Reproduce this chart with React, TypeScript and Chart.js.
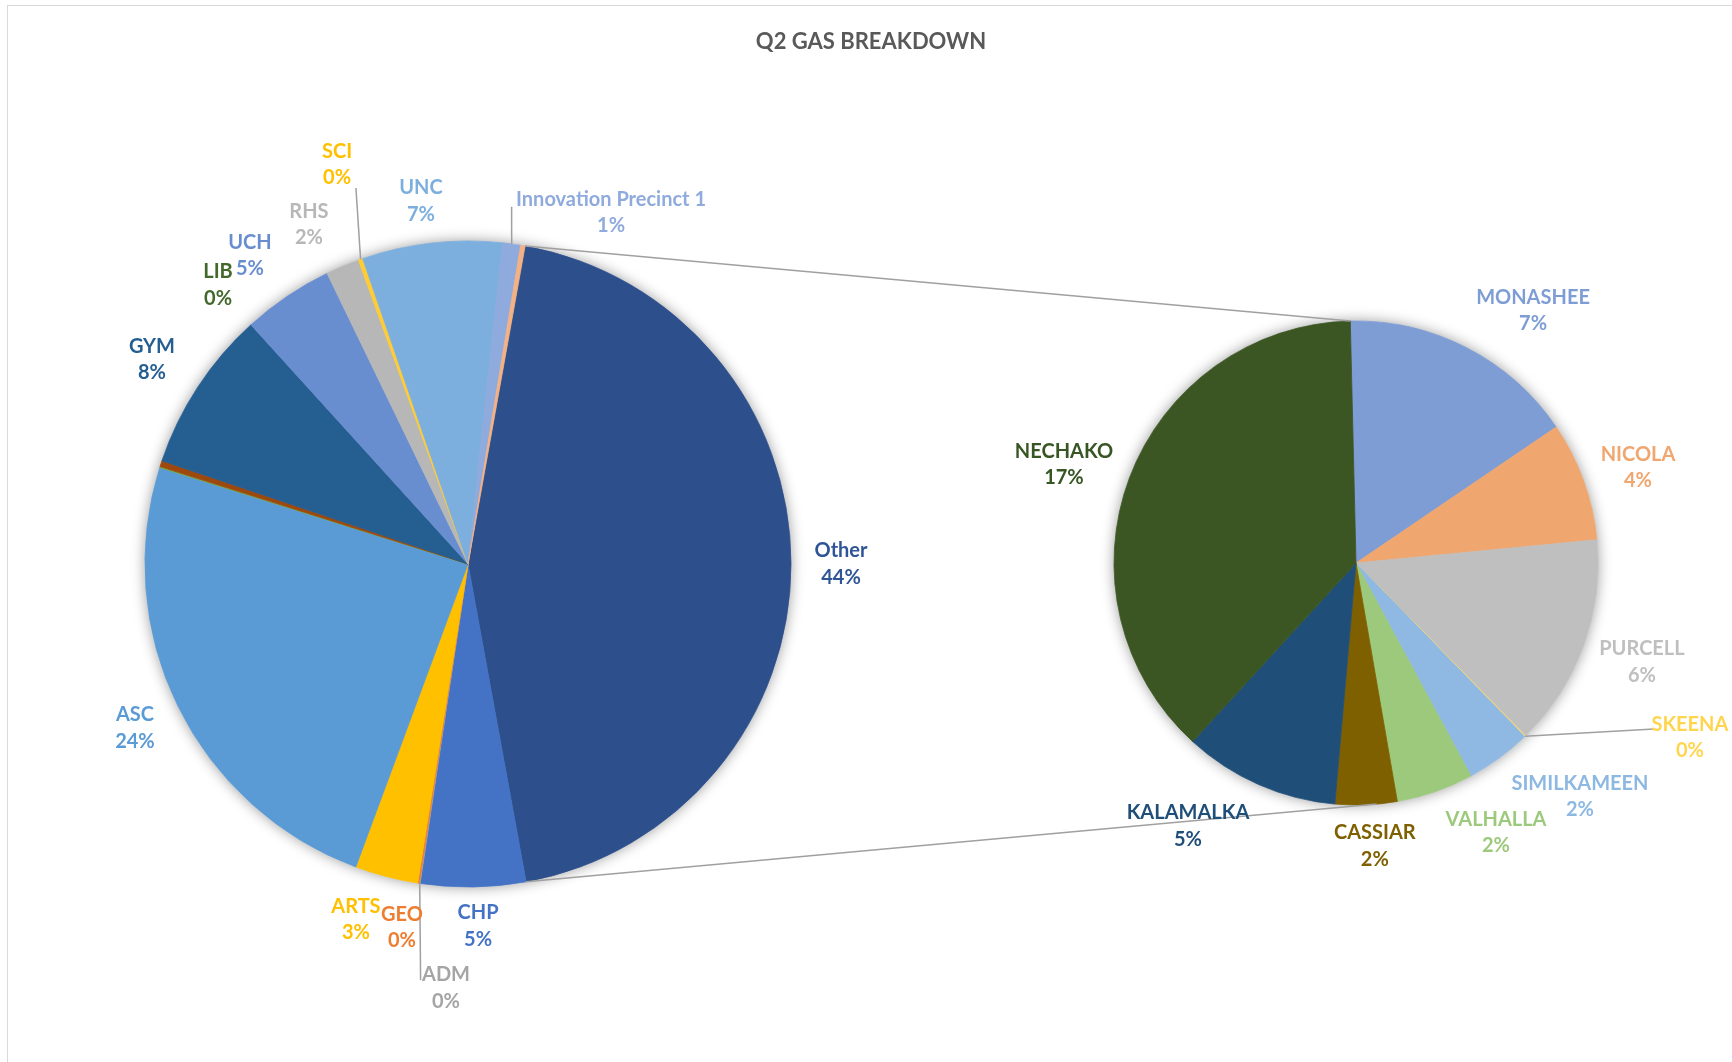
import React, { useEffect, useRef } from 'react';
import { Chart, registerables } from 'chart.js';

Chart.register(...registerables);

// ---------------- DATA ----------------
const TITLE = 'Q2 GAS BREAKDOWN';

// Main pie slices (clockwise after the "Other" slice); "" = slice without a label
const mainCategories = ['CHP', 'ADM', 'GEO', 'ARTS', 'ASC', 'LIB', '', 'GYM', 'UCH', 'RHS', 'SCI', 'UNC', 'Innovation Precinct 1', ''];
const mainValues = [5.25, 0.04, 0.08, 3.16, 24.2, 0.05, 0.3, 8.1, 4.55, 1.68, 0.22, 7.0, 0.9, 0.22];
const otherCategory = 'Other';

// Secondary pie (breakdown of "Other"), clockwise from top
const secondCategories = ['MONASHEE', 'NICOLA', 'PURCELL', 'SKEENA', 'SIMILKAMEEN', 'VALHALLA', 'CASSIAR', 'KALAMALKA', 'NECHAKO'];
const secondValues = [7.04, 3.53, 6.29, 0.03, 1.95, 2.28, 1.83, 4.61, 16.77];

// ---------------- STYLE / LAYOUT ----------------
const W = 1732;
const H = 1062;
const FONT = 'Lato, "Open Sans", sans-serif';
const LABEL_SIZE = 20;
const TITLE_SIZE = 22;
const LINE_GAP = 26.5;

const otherColor = '#2D4F8C';
const otherLabelColor = '#2F5597';
const mainColors = ['#4472C4', '#A5A5A5', '#ED7D31', '#FFC000', '#5B9BD5', '#70AD47', '#9E480E', '#255E91', '#698ED0', '#B7B7B7', '#FFCD33', '#7CAFDD', '#8FAADC', '#F4B183'];
const mainLabelColors = ['#4472C4', '#A5A5A5', '#ED7D31', '#FFC000', '#5B9BD5', '#43682B', '#9E480E', '#255E91', '#698ED0', '#B7B7B7', '#FFC000', '#7CAFDD', '#8FAADC', '#F4B183'];
const secondColors = ['#7E9DD5', '#F0A66F', '#BFBFBF', '#FFD966', '#8FB9E3', '#9CC97B', '#7F6000', '#1F4E79', '#3B5623'];
const secondLabelColors = ['#7E9DD5', '#F0A66F', '#BFBFBF', '#FFD54F', '#8DB8E2', '#9CC97B', '#7F6000', '#1F4E79', '#375623'];

const MAIN_CENTER = [468, 564];
const MAIN_RADIUS = 323;
const MAIN_ROTATION = 10.18;
const SECOND_CENTER = [1356, 563];
const SECOND_RADIUS = 242;
const SECOND_ROTATION = -1.35;

// label placement: clock angle (deg, clockwise from 12 o'clock) and distance from pie centre
const otherLabelPolar = [90, 373];
const mainLabelAngles = [178.4, 182.97, 190.3, 197.5, 243.8, -41.86, 0, -57.1, -35.25, -25.1, -18.15, -7.38, 22.14, 0];
const mainLabelDists = [362, 424.6, 369.4, 372.7, 371.2, 374.6, 0, 376.4, 377.7, 374.9, 420.4, 366, 379.5, 0];
const mainLeaders: (number[] | null)[] = [null, [186.5, 418.7], null, null, null, null, null, null, null, null, [-16.6, 392.3], null, [6.96, 360], null];
const secondLabelAngles = [35.03, 71.3, 109.1, 117.6, 136.2, 152.55, 176.2, 212.57, 288.64];
const secondLabelDists = [308.4, 297.7, 302.6, 376.8, 323.6, 303.7, 283.6, 312.1, 308.2];
const secondLeaders: (number[] | null)[] = [null, null, null, [119.12, 341.1], null, null, null, null, null];
const connectorAngles = [SECOND_ROTATION, 175.1];

const sum = (a: number[]) => a.reduce((s, v) => s + v, 0);
const otherValue = sum(secondValues);
const grandTotal = sum(mainValues) + otherValue;
const pct = (v: number) => Math.round((v / grandTotal) * 100) + '%';

const polar = (cx: number, cy: number, r: number, deg: number) => {
  const t = (deg * Math.PI) / 180;
  return [cx + r * Math.sin(t), cy - r * Math.cos(t)];
};

function drawLabel(ctx: CanvasRenderingContext2D, x: number, y: number, name: string, value: string, color: string) {
  ctx.save();
  ctx.font = `bold ${LABEL_SIZE}px ${FONT}`;
  ctx.fillStyle = color;
  ctx.textAlign = 'center';
  ctx.textBaseline = 'middle';
  ctx.fillText(name, x, y - LINE_GAP / 2);
  ctx.fillText(value, x, y + LINE_GAP / 2);
  ctx.restore();
}

function drawLine(ctx: CanvasRenderingContext2D, a: number[], b: number[]) {
  ctx.save();
  ctx.strokeStyle = '#A0A0A0';
  ctx.lineWidth = 1.5;
  ctx.beginPath();
  ctx.moveTo(a[0], a[1]);
  ctx.lineTo(b[0], b[1]);
  ctx.stroke();
  ctx.restore();
}

const shadowPlugin = {
  id: 'pieShadow',
  beforeDatasetsDraw(chart: any) {
    const el = chart.getDatasetMeta(0).data[0];
    if (!el) return;
    const ctx = chart.ctx;
    ctx.save();
    ctx.shadowColor = 'rgba(0,0,0,0.4)';
    ctx.shadowBlur = 14;
    ctx.beginPath();
    ctx.arc(el.x, el.y, el.outerRadius, 0, Math.PI * 2);
    ctx.fillStyle = '#ffffff';
    ctx.fill();
    ctx.restore();
  },
};

const clockMid = (el: any) => ((el.startAngle + el.endAngle) / 2) * (180 / Math.PI) + 90;

export default function App() {
  const mainRef = useRef<HTMLCanvasElement>(null);
  const secondRef = useRef<HTMLCanvasElement>(null);

  useEffect(() => {
    if (!mainRef.current || !secondRef.current) return;

    const mainLabelsPlugin = {
      id: 'mainLabels',
      beforeDraw(chart: any) {
        const ctx = chart.ctx;
        ctx.save();
        ctx.fillStyle = '#ffffff';
        ctx.fillRect(0, 0, W, H);
        ctx.strokeStyle = '#D9D9D9';
        ctx.lineWidth = 1;
        ctx.strokeRect(7.5, 5.5, W + 20, H + 20);
        ctx.font = `bold ${TITLE_SIZE}px ${FONT}`;
        ctx.fillStyle = '#595959';
        ctx.textAlign = 'center';
        ctx.textBaseline = 'middle';
        ctx.fillText(TITLE, 871, 42);
        ctx.restore();
      },
      afterDatasetsDraw(chart: any) {
        const ctx = chart.ctx;
        const arcs = chart.getDatasetMeta(0).data;
        const cx = arcs[0].x;
        const cy = arcs[0].y;
        const R = arcs[0].outerRadius;
        const op = polar(cx, cy, otherLabelPolar[1], otherLabelPolar[0]);
        drawLabel(ctx, op[0], op[1], otherCategory, pct(otherValue), otherLabelColor);
        mainCategories.forEach((name, i) => {
          if (!name) return;
          const el = arcs[i + 1];
          const lead = mainLeaders[i];
          if (lead) {
            const a = polar(cx, cy, R, clockMid(el));
            const b = polar(cx, cy, lead[1], lead[0]);
            drawLine(ctx, a, b);
          }
          const p = polar(cx, cy, mainLabelDists[i], mainLabelAngles[i]);
          drawLabel(ctx, p[0], p[1], name, pct(mainValues[i]), mainLabelColors[i]);
        });
      },
    };

    const mainChart = new Chart(mainRef.current, {
      type: 'pie',
      data: {
        labels: [otherCategory, ...mainCategories],
        datasets: [
          {
            data: [otherValue, ...mainValues],
            backgroundColor: [otherColor, ...mainColors],
            borderColor: [otherColor, ...mainColors],
            borderWidth: 0.8,
            hoverOffset: 0,
          },
        ],
      },
      options: {
        responsive: false,
        animation: false,
        rotation: MAIN_ROTATION,
        radius: MAIN_RADIUS,
        layout: { padding: { left: 0, right: W - 2 * MAIN_CENTER[0], top: 2 * MAIN_CENTER[1] - H, bottom: 0 } },
        plugins: { legend: { display: false }, tooltip: { enabled: false }, title: { display: false } },
        events: [],
      } as any,
      plugins: [mainLabelsPlugin, shadowPlugin],
    });

    const secondLabelsPlugin = {
      id: 'secondLabels',
      afterDatasetsDraw(chart: any) {
        const ctx = chart.ctx;
        const arcs = chart.getDatasetMeta(0).data;
        const cx = arcs[0].x;
        const cy = arcs[0].y;
        const R = arcs[0].outerRadius;
        const otherArc: any = mainChart.getDatasetMeta(0).data[0];
        if (otherArc) {
          const s = otherArc.startAngle * (180 / Math.PI) + 90;
          const e = otherArc.endAngle * (180 / Math.PI) + 90;
          drawLine(ctx, polar(otherArc.x, otherArc.y, otherArc.outerRadius, s), polar(cx, cy, R, connectorAngles[0]));
          drawLine(ctx, polar(otherArc.x, otherArc.y, otherArc.outerRadius, e), polar(cx, cy, R, connectorAngles[1]));
        }
        secondCategories.forEach((name, i) => {
          const el = arcs[i];
          const lead = secondLeaders[i];
          if (lead) {
            const a = polar(cx, cy, R, clockMid(el));
            const b = polar(cx, cy, lead[1], lead[0]);
            drawLine(ctx, a, b);
          }
          const p = polar(cx, cy, secondLabelDists[i], secondLabelAngles[i]);
          drawLabel(ctx, p[0], p[1], name, pct(secondValues[i]), secondLabelColors[i]);
        });
      },
    };

    const secondChart = new Chart(secondRef.current, {
      type: 'pie',
      data: {
        labels: secondCategories,
        datasets: [
          {
            data: secondValues,
            backgroundColor: secondColors,
            borderColor: secondColors,
            borderWidth: 0.8,
            hoverOffset: 0,
          },
        ],
      },
      options: {
        responsive: false,
        animation: false,
        rotation: SECOND_ROTATION,
        radius: SECOND_RADIUS,
        layout: { padding: { left: 2 * SECOND_CENTER[0] - W, right: 0, top: 2 * SECOND_CENTER[1] - H, bottom: 0 } },
        plugins: { legend: { display: false }, tooltip: { enabled: false }, title: { display: false } },
        events: [],
      } as any,
      plugins: [shadowPlugin, secondLabelsPlugin],
    });

    return () => {
      secondChart.destroy();
      mainChart.destroy();
    };
  }, []);

  return (
    <div style={{ position: 'fixed', left: 0, top: 0, width: W, height: H, background: '#ffffff' }}>
      <canvas ref={mainRef} width={W} height={H} style={{ position: 'absolute', left: 0, top: 0 }} />
      <canvas ref={secondRef} width={W} height={H} style={{ position: 'absolute', left: 0, top: 0 }} />
    </div>
  );
}
